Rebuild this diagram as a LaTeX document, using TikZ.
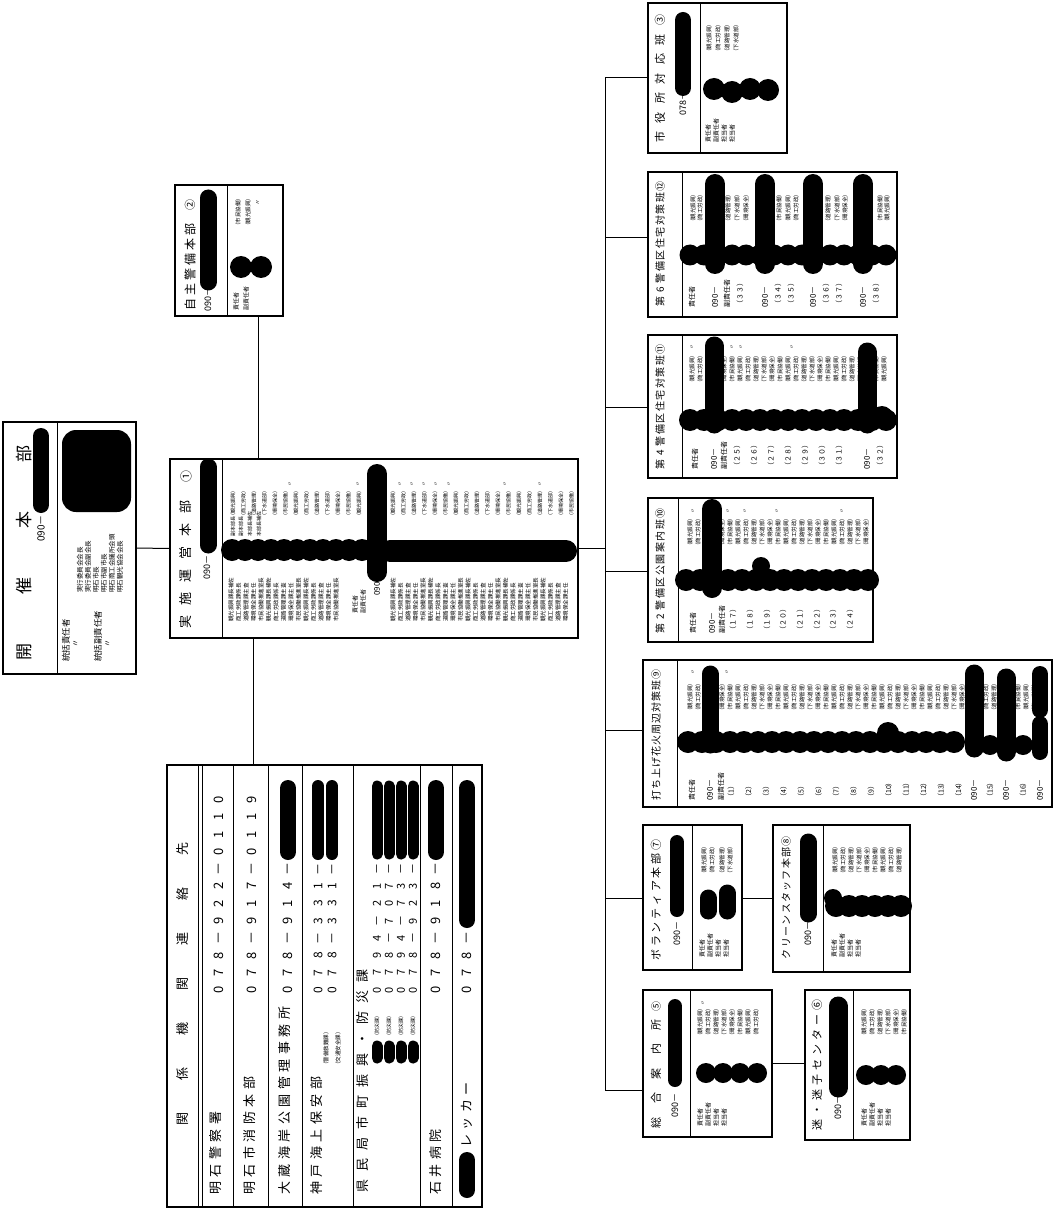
\documentclass[tikz,border=0pt]{standalone}
\usepackage{fontspec}
\setmainfont{Noto Sans CJK JP}
\newfontfamily\jpf{Noto Sans CJK JP}
\usetikzlibrary{fit}
\makeatletter
\def\sp@loop#1{\ifx\@nil#1\else\makebox[\sp@w]{#1}\expandafter\sp@loop\fi}
\newcommand\spaced[2]{\def\sp@w{#1}\edef\sp@l{#2}\expandafter\sp@loop\sp@l\@nil}
\makeatother
\newcommand\affil[1]{\pgfmathtruncatemacro\affn{mod(#1,6)}\ifcase\affn （市民協働）\or （観光振興）\or （商工労政）\or （道路管理）\or （下水道部）\or （環境保全）\fi}
\newcommand\roleA[1]{\pgfmathtruncatemacro\roln{mod(#1,5)}\ifcase\roln 市民協働推進室長\or 観光振興課長補佐\or 商工労政課係長\or 道路管理課主査\or 環境保全課主任\fi}
\tikzset{
  bx/.style={draw=black, line width=1.1pt, inner sep=0pt},
  conn/.style={draw=black, line width=1pt},
  divl/.style={draw=black, line width=0.9pt},
  rt/.style={rotate=90, inner sep=0pt, anchor=west},
  fs/.style={font=\jpf\fontsize{#1}{#1}\selectfont},
  blob/.style={draw=black, line width=#1, line cap=round},
  blob/.default=16pt,
}
\begin{document}
\begin{tikzpicture}[x=1pt,y=-1pt]
\fill[white] (0,0) rectangle (1055,1214);
\useasboundingbox (0,0) rectangle (1055,1214);

% ---------- boxes ----------
\node[bx, fit={(3,422) (136,674)}] (kaisai) {};
\node[bx, fit={(175,185) (283,316)}] (jishu) {};
\node[bx, fit={(170,459) (578,638)}] (jisshi) {};
\node[bx, fit={(167,765) (482,1207)}] (rel) {};
\node[bx, fit={(648,3) (787,153)}] (shiyaku) {};
\node[bx, fit={(648,172) (897,317)}] (dai6) {};
\node[bx, fit={(648,335) (897,478)}] (dai4) {};
\node[bx, fit={(648,498) (873,642)}] (dai2) {};
\node[bx, fit={(643,660) (1052,807)}] (hanabi) {};
\node[bx, fit={(643,825) (742,970)}] (vol) {};
\node[bx, fit={(773,825) (910,972)}] (clean) {};
\node[bx, fit={(643,990) (772,1137)}] (sogo) {};
\node[bx, fit={(805,990) (910,1140)}] (maigo) {};

\foreach \xx/\ya/\yb in {57/422/674, 227/185/316, 222/459/638, 700/3/153, 682/172/317, 682/335/478, 678/498/642, 677/660/807, 692/825/970, 823/825/972, 690/990/1137, 853/990/1140, 198/765/1207, 202/765/1207, 233/765/1207, 268/765/1207, 302/765/1207, 353/765/1207, 420/765/1207, 452/765/1207}
  \draw[divl] (\xx,\ya) -- (\xx,\yb);

% ---------- connectors ----------
\draw[conn] (kaisai.east) -- (jisshi.west);
\coordinate (c1) at (258,0);
\draw[conn] (jishu.south -| c1) -- (jisshi.north -| c1);
\coordinate (c2) at (253,0);
\draw[conn] (jisshi.south -| c2) -- (rel.north -| c2);
\foreach \b/\yy in {shiyaku/78, dai6/238, dai4/407, dai2/571, hanabi/730, vol/898, sogo/1090}{
  \coordinate (br\b) at (605,\yy);
  \draw[conn] (br\b) -- (br\b -| \b.west);
}
\draw[conn] (jisshi.east) -- (jisshi.east -| brshiyaku);
\draw[conn] (brshiyaku) -- (brsogo);
\coordinate (cv) at (0,898);
\draw[conn] (vol.east |- cv) -- (clean.west |- cv);
\coordinate (cs) at (0,1063);
\draw[conn] (sogo.east |- cs) -- (maigo.west |- cs);

% ---------- 開催本部 ----------
\node[rt,fs=17] (kt) at (24,685) {\spaced{66pt}{開催本部}};
\node[rt,fs=10] (kp) at (41,542) {090－};
\node[rt,fs=8.5] (k1) at (66,662) {統括責任者};
\node[rt,fs=8] (k1b) at (76,648) {〃};
\node[rt,fs=8.5] (k2) at (98,662) {統括副責任者};
\node[rt,fs=8] (k2b) at (108,648) {〃};
\foreach \x/\t [count=\i] in {80/実行委員会会長, 88/実行委員会副会長, 96/明石市長, 104/明石市副市長, 112/明石商工会議所会頭, 120/明石観光協会会長}
  \node[rt,fs=6.5] (km\i) at (\x,593) {\t};
\draw[blob=16pt] (41,436) -- (41,505);
\fill[rounded corners=14pt] (62,430) rectangle (131,512);

% ---------- 自主警備本部 ----------
\node[rt,fs=12] (st) at (190,312) {\spaced{15pt}{自主警備本部}};
\node[rt,fs=11] (stn) at (190,211) {②};
\node[rt,fs=9] (sp) at (208,312) {090－};
\node[rt,fs=5.5] (sa1) at (238,229) {（市民協働）};
\node[rt,fs=5.5] (sa2) at (248,229) {（観光振興）};
\node[rt,fs=6] (sd) at (258,206) {〃};
\node[rt,fs=6] (sr1) at (236,311) {責任者};
\node[rt,fs=6] (sr2) at (246,311) {副責任者};
\draw[blob=17pt] (208,198) -- (208,282);
\fill (241,267) circle (11pt);
\fill (261,267) circle (11pt);

% ---------- 実施運営本部 ----------
\node[rt,fs=13] (jt) at (186,634) {\spaced{23pt}{実施運営本部}};
\node[rt,fs=12] (jn) at (186,483) {①};
\node[rt,fs=9] (jp) at (207,580) {090－};
\foreach \x [count=\i] in {233,243.5,...,362} \node[rt,fs=5] (ja\i) at (\x,519) {\affil{\i}};
\foreach \x [count=\i] in {393,403.5,...,572} \node[rt,fs=5] (jb\i) at (\x,519) {\affil{\i}};
\foreach \x [count=\i] in {290,358,400,412,424,436,449,505,540} \node[rt,fs=5] (jd\i) at (\x,487) {〃};
\foreach \x/\t [count=\i] in {233/副本部長, 241/副本部長, 250/本部長補佐, 259/本部長補佐}
  \node[rt,fs=5] (jm\i) at (\x,537) {\t};
\foreach \x [count=\i] in {231,238.5,...,340} \node[rt,fs=5.5] (jl\i) at (\x,622) {\roleA{\i}};
\node[rt,fs=6] (jr1) at (355,614) {責任者};
\node[rt,fs=6] (jr2) at (363,614) {副責任者};
\node[rt,fs=8] (jp2) at (377,596) {090－};
\foreach \x [count=\i] in {393,400.5,...,572} \node[rt,fs=5.5] (jq\i) at (\x,622) {\roleA{\i}};
\draw[blob=17pt] (208,467) -- (208,545);
\foreach \x in {232,245,...,362} \fill (\x,550) circle (11pt);
\draw[blob=22pt] (390,551) -- (566,551);
\draw[blob=20pt] (377,474) -- (377,572);

% ---------- 関係機関連絡先 ----------
\node[rt,fs=13] (hdr) at (183,1142) {\spaced{45pt}{関係機関連絡先}};
\node[rt,fs=13] (r1n) at (216,1197) {\spaced{17.5pt}{明石警察署}};
\node[rt,fs=13] (r1p) at (219,999) {\spaced{17.3pt}{078－922－0110}};
\node[rt,fs=13] (r2n) at (250,1197) {\spaced{17.5pt}{明石市消防本部}};
\node[rt,fs=13] (r2p) at (252,999) {\spaced{17.3pt}{078－917－0119}};
\node[rt,fs=13] (r3n) at (285,1197) {\spaced{17.5pt}{大蔵海岸公園管理事務所}};
\node[rt,fs=13] (r3p) at (288,999) {\spaced{17.3pt}{078－914－}};
\node[rt,fs=13] (r4n) at (317,1197) {\spaced{17.5pt}{神戸海上保安部}};
\node[rt,fs=5.5] (r4a) at (326,1068) {（警備救難課）};
\node[rt,fs=5.5] (r4b) at (338,1068) {（交通安全課）};
\node[rt,fs=12] (r4p) at (318,999) {\spaced{17.3pt}{078－331－}};
\node[rt,fs=12] (r4q) at (332,999) {\spaced{17.3pt}{078－331－}};
\node[rt,fs=13] (r5n) at (363,1197) {\spaced{21pt}{県民局市町振興・防災課}};
\foreach \x [count=\i] in {377,389,401,413}
  \node[rt,fs=5] (r5a\i) at (\x,1039) {（防災課）};
\node[rt,fs=11] (r5p1) at (377,999) {\spaced{17.3pt}{0794－21－}};
\node[rt,fs=11] (r5p2) at (389,999) {\spaced{17.3pt}{078－707－}};
\node[rt,fs=11] (r5p3) at (401,999) {\spaced{17.3pt}{0794－73－}};
\node[rt,fs=11] (r5p4) at (413,999) {\spaced{17.3pt}{078－923－}};
\node[rt,fs=13] (r6n) at (436,1197) {\spaced{17.5pt}{石井病院}};
\node[rt,fs=13] (r6p) at (436,999) {\spaced{17.3pt}{078－918－}};
\node[rt,fs=13] (r7n) at (467,1150) {\spaced{17.5pt}{レッカー}};
\node[rt,fs=13] (r7p) at (467,999) {\spaced{17.3pt}{078－}};
\draw[blob=16pt] (288,788) -- (288,852);
\draw[blob=12pt] (318,786) -- (318,854);
\draw[blob=12pt] (332,786) -- (332,854);
\foreach \x in {377,389,401,413}{
  \draw[blob=11pt] (\x,786) -- (\x,854);
  \draw[blob=11pt] (\x,1046) -- (\x,1058);
}
\draw[blob=16pt] (436,788) -- (436,852);
\draw[blob=16pt] (467,1160) -- (467,1190);
\draw[blob=16pt] (467,788) -- (467,920);

% ---------- 市役所対応班 ----------
\node[rt,fs=11] (a1t) at (660,147) {\spaced{19.5pt}{市役所対応班③}};
\node[rt,fs=9] (a1p) at (683,116) {078－};
\foreach \x [count=\i] in {709,718,727,736} \node[rt,fs=5.5] (a1c\i) at (\x,55) {\affil{\i}};
\foreach \x/\t [count=\i] in {708/責任者, 716/副責任者, 724/担当者, 732/担当者} \node[rt,fs=6] (a1r\i) at (\x,143) {\t};
\draw[blob=16pt] (683,20) -- (683,88);
\foreach \x/\yy in {714/89, 732/92, 750/89, 768/90} \fill (\x,\yy) circle (11pt);

% ---------- 第6 ----------
\node[rt,fs=10] (a6t) at (660,307) {\spaced{11.5pt}{第6警備区住宅対策班⑫}};
\foreach \x [count=\i] in {693,700,728,737,746,779,788,796,828,837,845,880,887} \node[rt,fs=5.5] (a6c\i) at (\x,225) {\affil{\i}};
\foreach \x/\t [count=\i] in {692/責任者, 727/副責任者, 740/（３３）, 778/（３４）, 791/（３５）, 826/（３６）, 839/（３７）, 876/（３８）} \node[rt,fs=7] (a6b\i) at (\x,308) {\t};
\foreach \x [count=\i] in {715,765,813,863} \node[rt,fs=8] (a6p\i) at (\x,308) {090－};
\foreach \x in {690,704,...,888} \fill (\x,255) circle (10.5pt);
\foreach \x in {715,765,813,863} \draw[blob=20pt] (\x,184) -- (\x,264);

% ---------- 第4 ----------
\node[rt,fs=10] (a4t) at (660,470) {\spaced{11.5pt}{第4警備区住宅対策班⑪}};
\foreach \x [count=\i] in {692,700,...,886} \node[rt,fs=5.5] (a4c\i) at (\x,386) {\affil{\i}};
\foreach \x [count=\i] in {692,723,732,741,792} \node[rt,fs=5] (a4d\i) at (\x,350) {〃};
\foreach \x/\t [count=\i] in {695/責任者, 724/副責任者, 737/（２５）, 754/（２６）, 771/（２７）, 788/（２８）, 805/（２９）, 822/（３０）, 839/（３１）, 880/（３２）} \node[rt,fs=7] (a4b\i) at (\x,470) {\t};
\node[rt,fs=8] (a4p1) at (714,470) {090－};
\node[rt,fs=8] (a4p2) at (867,470) {090－};
\foreach \x in {690,704,...,886} \fill (\x,420) circle (11pt);
\draw[blob=19pt] (714,346) -- (714,424);
\draw[blob=19pt] (867,352) -- (867,424);
\fill (882,417) circle (11pt);

% ---------- 第2 ----------
\node[rt,fs=10] (a2t) at (660,634) {\spaced{11.5pt}{第2警備区公園案内班⑩}};
\foreach \x [count=\i] in {690,698,...,866} \node[rt,fs=5.5] (a2c\i) at (\x,549) {\affil{\i}};
\foreach \x [count=\i] in {693,728,745,777,842} \node[rt,fs=5] (a2d\i) at (\x,514) {〃};
\foreach \x/\t [count=\i] in {693/責任者, 722/副責任者, 733/（１７）, 750/（１８）, 767/（１９）, 783/（２０）, 800/（２１）, 817/（２２）, 833/（２３）, 850/（２４）} \node[rt,fs=7] (a2b\i) at (\x,634) {\t};
\node[rt,fs=8] (a2p1) at (712,634) {090－};
\foreach \x in {686,700,...,868} \fill (\x,580) circle (11pt);
\fill (761,566) circle (9pt);
\draw[blob=20pt] (712,509) -- (712,588);

% ---------- 打ち上げ花火 ----------
\node[rt,fs=10] (aht) at (656,801) {\spaced{11pt}{打ち上げ花火周辺対策班⑨}};
\foreach \x [count=\i] in {690,698,...,1048} \node[rt,fs=5.5] (ahc\i) at (\x,714) {\affil{\i}};
\foreach \x [count=\i] in {693,727} \node[rt,fs=5] (ahd\i) at (\x,675) {〃};
\node[rt,fs=7] (ahr1) at (692,801) {責任者};
\node[rt,fs=7] (ahr2) at (721,801) {副責任者};
\foreach \i in {1,...,14}{
  \pgfmathsetmacro\xx{731+17.5*(\i-1)}
  \node[rt,fs=7] (ahn\i) at (\xx,801) {（\i）};
}
\node[rt,fs=7] (ahn15) at (990,801) {（15）};
\node[rt,fs=7] (ahn16) at (1023,801) {（16）};
\foreach \x [count=\i] in {710,974,1006,1040} \node[rt,fs=8] (ahp\i) at (\x,801) {090－};
\foreach \x in {688,702,...,958} \fill (\x,742) circle (11pt);
\fill (888,733) circle (11pt);
\fill (990,745) circle (10pt);
\fill (1023,745) circle (10pt);
\draw[blob=17pt] (710,674) -- (710,745);
\draw[blob=19pt] (974,674) -- (974,748);
\draw[blob=19pt] (1006,678) -- (1006,752);
\draw[blob=16pt] (1040,674) -- (1040,710);
\draw[blob=16pt] (1040,724) -- (1040,752);

% ---------- ボランティア本部 ----------
\node[rt,fs=11] (avt) at (656,962) {\spaced{13.7pt}{ボランティア本部⑦}};
\node[rt,fs=9] (avp) at (677,946) {090－};
\foreach \x [count=\i] in {704,712,722,730} \node[rt,fs=5.5] (avc\i) at (\x,877) {\affil{\i}};
\foreach \x/\t [count=\i] in {702/責任者, 710/副責任者, 718/担当者, 726/担当者} \node[rt,fs=6] (avr\i) at (\x,958) {\t};
\draw[blob=14pt] (677,842) -- (677,910);
\draw[blob=17pt] (708,898) -- (708,911);
\draw[blob=17pt] (727,893) -- (727,911);

% ---------- クリーンスタッフ本部 ----------
\node[rt,fs=10] (act) at (786,960) {\spaced{11.3pt}{クリーンスタッフ本部⑧}};
\node[rt,fs=9] (acp) at (808,946) {090－};
\foreach \x [count=\i] in {835,843,...,903} \node[rt,fs=5.5] (acc\i) at (\x,877) {\affil{\i}};
\foreach \x/\t [count=\i] in {834/責任者, 842/副責任者, 850/担当者, 858/担当者} \node[rt,fs=6] (acr\i) at (\x,958) {\t};
\draw[blob=17pt] (808,842) -- (808,914);
\foreach \x in {836,849,...,902} \fill (\x,906) circle (11pt);
\fill (833,898) circle (9pt);

% ---------- 総合案内所 ----------
\node[rt,fs=11] (aot) at (656,1135) {\spaced{24.5pt}{総合案内所}};
\node[rt,fs=10] (aon) at (656,1012) {⑤};
\node[rt,fs=9] (aop) at (675,1118) {090－};
\node[rt,fs=5] (aod) at (703,1006) {〃};
\foreach \x [count=\i] in {700,708,...,762} \node[rt,fs=5.5] (aoc\i) at (\x,1039) {\affil{\i}};
\foreach \x/\t [count=\i] in {700/責任者, 708/副責任者, 716/担当者, 724/担当者} \node[rt,fs=6] (aor\i) at (\x,1127) {\t};
\draw[blob=14pt] (675,1006) -- (675,1080);
\foreach \x in {706,723,740,757} \fill (\x,1073) circle (10pt);

% ---------- 迷子センター ----------
\node[rt,fs=11] (amt) at (817,1133) {\spaced{15pt}{迷・迷子センター⑥}};
\node[rt,fs=9] (amp) at (838,1120) {090－};
\foreach \x [count=\i] in {864,872,...,904} \node[rt,fs=5.5] (amc\i) at (\x,1039) {\affil{\i}};
\foreach \x/\t [count=\i] in {864/責任者, 872/副責任者, 880/担当者, 888/担当者} \node[rt,fs=6] (amr\i) at (\x,1127) {\t};
\draw[blob=19pt] (838,1006) -- (838,1088);
\foreach \x in {866,881,896} \fill (\x,1075) circle (10pt);
\end{tikzpicture}
\end{document}
